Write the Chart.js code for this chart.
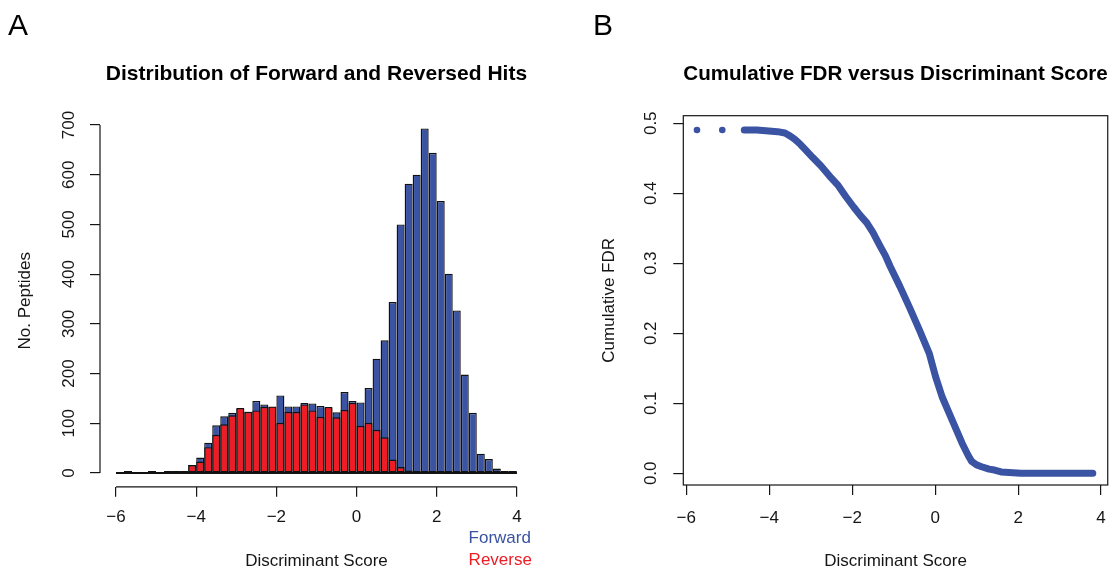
<!DOCTYPE html>
<html><head><meta charset="utf-8">
<script src="https://cdn.jsdelivr.net/npm/chart.js@4.4.1/dist/chart.umd.min.js"></script>
<style>
html,body{margin:0;padding:0;background:#fff;}
body{width:1119px;height:568px;position:relative;overflow:hidden;}
#wa{position:absolute;left:8px;top:0;width:552px;height:568px;}
#wb{position:absolute;left:593px;top:0;width:526px;height:568px;}
canvas{display:block;}
</style></head><body>
<div id="wa"><canvas id="ca" width="552" height="568"></canvas></div>
<div id="wb"><canvas id="cb" width="526" height="568"></canvas></div>
<script>
// ---------- Panel A: histogram data ----------
const binCenters = [-5.9,-5.7,-5.5,-5.3,-5.1,-4.9,-4.7,-4.5,-4.3,-4.1,
  -3.9,-3.7,-3.5,-3.3,-3.1,-2.9,-2.7,-2.5,-2.3,-2.1,
  -1.9,-1.7,-1.5,-1.3,-1.1,-0.9,-0.7,-0.5,-0.3,-0.1,
  0.1,0.3,0.5,0.7,0.9,1.1,1.3,1.5,1.7,1.9,
  2.1,2.3,2.5,2.7,2.9,3.1,3.3,3.5,3.7,3.9];
const forwardCounts = [0,2,0,0,2,0,1,1,4,16,
  31,61,96,114,121,130,123,145,138,133,
  156,134,134,141,140,135,132,122,163,145,
  142,171,230,267,344,500,582,600,693,644,
  547,401,327,198,121,39,28,9,3,1];
const reverseCounts = [0,2,0,0,2,0,1,1,4,16,
  23,52,77,98,116,131,123,126,133,134,
  101,123,123,138,126,113,133,112,127,141,
  95,101,87,72,27,12,5,3,1,4,
  1,0,0,0,0,0,0,0,0,0];
const histXTicks = [-6,-4,-2,0,2,4];
const histXTickLabels = ['\u22126','\u22124','\u22122','0','2','4'];
const histYTicks = [0,100,200,300,400,500,600,700];
const histYTickLabels = ['0','100','200','300','400','500','600','700'];
const legendLabels = ['Forward','Reverse'];

// ---------- Panel B: cumulative FDR data ----------
const isolatedScores = [-5.74,-5.13];
const isolatedFdr = [0.4904,0.4904];
const fdrScores = [-4.60,-4.30,-4.01,-3.80,-3.62,-3.50,-3.38,-3.25,-3.14,-2.95,-2.75,-2.55,-2.35,-2.15,-1.96,-1.80,-1.65,-1.50,-1.33,-1.20,-1.08,-0.85,-0.61,-0.38,-0.14,0.01,0.17,0.41,0.65,0.80,0.88,1.00,1.12,1.30,1.43,1.59,2.07,3.00,3.80];
const fdrValues = [0.4904,0.4904,0.489,0.488,0.486,0.482,0.477,0.470,0.463,0.451,0.439,0.425,0.412,0.395,0.380,0.368,0.358,0.344,0.325,0.311,0.295,0.267,0.236,0.205,0.171,0.138,0.109,0.076,0.043,0.025,0.017,0.012,0.0094,0.006,0.0047,0.002,0.0,0.0,0.0];
const fdrXTicks = [-6,-4,-2,0,2,4];
const fdrXTickLabels = ['\u22126','\u22124','\u22122','0','2','4'];
const fdrYTicks = [0,0.1,0.2,0.3,0.4,0.5];
const fdrYTickLabels = ['0.0','0.1','0.2','0.3','0.4','0.5'];

// ---------- styles ----------
const FONT = '"Liberation Sans", Arial, Helvetica, sans-serif';
const BLUE = '#3a53a3';
const RED = '#ee1c25';
const INK = '#151515';

Chart.defaults.font.family = FONT;
Chart.defaults.color = INK;
Chart.defaults.animation = false;

const setTicks = (vals) => (axis) => { axis.ticks = vals.map(v => ({value: v})); };

// R-style axis lines spanning the tick range, plus histogram baseline (left panel)
const rAxisLines = {
  id: 'rAxisLines',
  beforeDatasetsDraw(chart) {
    const {ctx, scales: {x, y}} = chart;
    ctx.save();
    ctx.strokeStyle = INK; ctx.lineWidth = 2;
    ctx.beginPath();
    ctx.moveTo(x.getPixelForValue(histXTicks[0]), y.getPixelForValue(0));
    ctx.lineTo(x.getPixelForValue(histXTicks[histXTicks.length-1]), y.getPixelForValue(0));
    ctx.stroke();
    ctx.restore();
  },
  afterDraw(chart) {
    const {ctx, chartArea: a, scales: {x, y}} = chart;
    ctx.save();
    ctx.strokeStyle = INK; ctx.lineWidth = 1.2;
    ctx.beginPath();
    ctx.moveTo(x.getPixelForValue(histXTicks[0]), a.bottom);
    ctx.lineTo(x.getPixelForValue(histXTicks[histXTicks.length-1]), a.bottom);
    ctx.moveTo(a.left, y.getPixelForValue(histYTicks[0]));
    ctx.lineTo(a.left, y.getPixelForValue(histYTicks[histYTicks.length-1]));
    ctx.stroke();
    ctx.restore();
  }
};
const legendText = {
  id: 'legendText',
  afterDraw(chart) {
    const {ctx, chartArea: a} = chart;
    ctx.save();
    ctx.font = '17px ' + FONT;
    ctx.textAlign = 'right'; ctx.textBaseline = 'middle';
    ctx.fillStyle = BLUE; ctx.fillText(legendLabels[0], a.right - 2, a.bottom + 52);
    ctx.fillStyle = RED; ctx.fillText(legendLabels[1], a.right - 1, a.bottom + 74);
    ctx.restore();
  }
};
const plotBox = {
  id: 'plotBox',
  afterDraw(chart) {
    const {ctx, chartArea: a} = chart;
    ctx.save();
    ctx.strokeStyle = INK; ctx.lineWidth = 1.2;
    ctx.strokeRect(a.left, a.top, a.right - a.left, a.bottom - a.top);
    ctx.restore();
  }
};

const tickGrid = {drawOnChartArea: false, drawTicks: true, tickLength: 10, color: INK, lineWidth: 1.2, offset: false};

// ---------- Panel A ----------
new Chart(document.getElementById('ca'), {
  type: 'bar',
  data: {
    datasets: [
      {label: 'Forward', data: binCenters.map((c,i)=>({x:c, y:forwardCounts[i]})),
       backgroundColor: BLUE, borderColor: '#111', borderWidth: 1.4, order: 2},
      {label: 'Reverse', data: binCenters.map((c,i)=>({x:c, y:reverseCounts[i]})),
       backgroundColor: RED, borderColor: '#111', borderWidth: 1.4, order: 1}
    ]
  },
  options: {
    responsive: false,
    events: [],
    datasets: {bar: {grouped: false, barPercentage: 1, categoryPercentage: 1, borderSkipped: false, minBarLength: 2, inflateAmount: 0}},
    layout: {padding: {left: 0, right: 27.1, top: 0, bottom: 0}},
    plugins: {
      legend: {display: false}, tooltip: {enabled: false},
      title: {display: true, text: 'A', align: 'start', color: '#000',
              font: {size: 30, weight: 'normal', lineHeight: 1}, padding: {top: 12, bottom: 0}},
      subtitle: {display: true, text: 'Distribution of Forward and Reversed Hits', fullSize: false, color: '#000',
              font: {size: 21, weight: 'bold', lineHeight: 1}, padding: {top: 22, bottom: 29.7}}
    },
    scales: {
      x: {type: 'linear', min: -6.4, max: 4.4, offset: false,
          afterBuildTicks: setTicks(histXTicks),
          afterFit: (s) => { s.height = 81.2; },
          grid: tickGrid, border: {display: false},
          ticks: {autoSkip: false, maxRotation: 0, padding: 10, font: {size: 17},
                  callback: (v, i) => histXTickLabels[i]},
          title: {display: true, text: 'Discriminant Score', font: {size: 17, lineHeight: 1}, padding: {top: 0, bottom: -1.5}}},
      y: {type: 'linear', min: -27.7, max: 720.7,
          afterBuildTicks: setTicks(histYTicks),
          afterFit: (s) => { s.width = 92; },
          grid: tickGrid, border: {display: false},
          ticks: {autoSkip: false, minRotation: 90, maxRotation: 90, crossAlign: 'center', padding: 6.8, font: {size: 17},
                  callback: (v, i) => histYTickLabels[i]},
          title: {display: true, text: 'No. Peptides', font: {size: 17, lineHeight: 1}, padding: {top: 9, bottom: 0}}}
    }
  },
  plugins: [rAxisLines, legendText]
});

// ---------- Panel B ----------
new Chart(document.getElementById('cb'), {
  type: 'scatter',
  data: {
    datasets: [
      {label: 'FDR', data: fdrScores.map((s,i)=>({x:s, y:fdrValues[i]})), showLine: true,
       borderColor: BLUE, backgroundColor: BLUE, borderWidth: 7, pointRadius: 0,
       borderCapStyle: 'round', borderJoinStyle: 'round', tension: 0},
      {label: 'FDR isolated', data: isolatedScores.map((s,i)=>({x:s, y:isolatedFdr[i]})), showLine: false,
       backgroundColor: BLUE, borderColor: BLUE, borderWidth: 0, pointRadius: 3.3}
    ]
  },
  options: {
    responsive: false,
    events: [],
    layout: {padding: {left: 0, right: 4, top: 0, bottom: 0}},
    plugins: {
      legend: {display: false}, tooltip: {enabled: false},
      title: {display: true, text: 'B', align: 'start', color: '#000',
              font: {size: 30, weight: 'normal', lineHeight: 1}, padding: {top: 12, bottom: 0}},
      subtitle: {display: true, text: 'Cumulative FDR versus Discriminant Score', fullSize: false, color: '#000',
              font: {size: 21, weight: 'bold', lineHeight: 1}, padding: {top: 22, bottom: 30.7}}
    },
    scales: {
      x: {type: 'linear', min: -6.07, max: 4.16,
          afterBuildTicks: setTicks(fdrXTicks),
          afterFit: (s) => { s.height = 83; },
          grid: tickGrid, border: {display: false},
          ticks: {autoSkip: false, maxRotation: 0, padding: 13, font: {size: 17},
                  callback: (v, i) => fdrXTickLabels[i]},
          title: {display: true, text: 'Discriminant Score', font: {size: 17, lineHeight: 1}, padding: {top: 0, bottom: -1.5}}},
      y: {type: 'linear', min: -0.0167, max: 0.5108,
          afterBuildTicks: setTicks(fdrYTicks),
          afterFit: (s) => { s.width = 90.3; },
          grid: tickGrid, border: {display: false},
          ticks: {autoSkip: false, minRotation: 90, maxRotation: 90, crossAlign: 'center', padding: 9.8, font: {size: 17},
                  callback: (v, i) => fdrYTickLabels[i]},
          title: {display: true, text: 'Cumulative FDR', font: {size: 17, lineHeight: 1}, padding: {top: 7.5, bottom: 0}}}
    }
  },
  plugins: [plotBox]
});
</script>
</body></html>
